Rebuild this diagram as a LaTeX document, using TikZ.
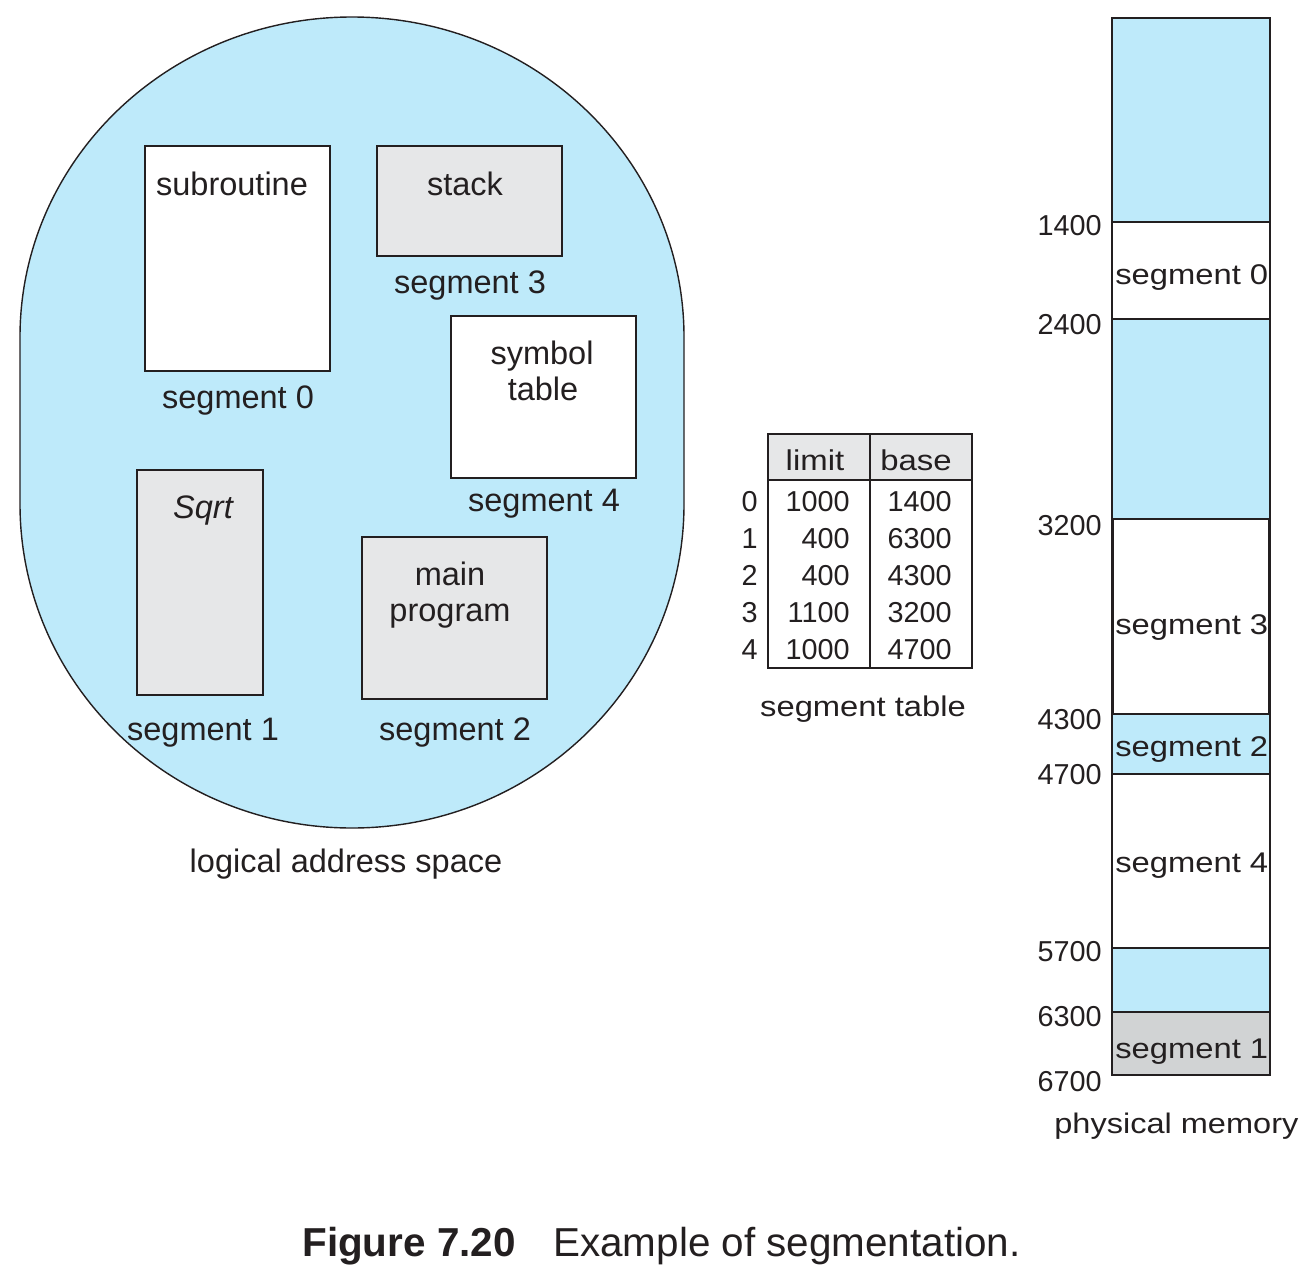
\documentclass[tikz,border=0pt]{standalone}
\usepackage{fontspec}
\usepackage{graphicx}
\setmainfont{Liberation Sans}
\definecolor{lblue}{RGB}{190,234,250}
\definecolor{lgray}{RGB}{230,231,232}
\definecolor{mgray}{RGB}{209,211,212}
\definecolor{ink}{RGB}{35,31,32}
\newcommand\xw[1]{\scalebox{1.15}[1]{#1}}
\tikzset{
  lbl/.style={inner sep=0pt, anchor=base, text=ink, font=\fontsize{18.5}{20}\selectfont},
  wlbl/.style={inner sep=0pt, anchor=base west, text=ink, font=\fontsize{16.2}{18}\selectfont},
  num/.style={inner sep=0pt, anchor=base east, text=ink, font=\fontsize{16.4}{18}\selectfont},
  segbox/.style={draw=ink, line width=0.85pt},
  memline/.style={draw=ink, line width=0.8pt},
}
\begin{document}
\begin{tikzpicture}[x=0.02cm, y=-0.02cm]
\path[use as bounding box] (0,0) rectangle (1300,1274);

% logical address space blob
\draw[fill=lblue, draw=ink, line width=0.8pt]
  (20,337) .. controls (20,160.3) and (168.6,17) .. (352,17)
  .. controls (535.4,17) and (684,160.3) .. (684,337)
  -- (684,504)
  .. controls (684,683) and (535.4,828) .. (352,828)
  .. controls (168.6,828) and (20,683) .. (20,504) -- cycle;

% segment boxes
\draw[segbox, fill=white] (145,146) rectangle (330,371);
\draw[segbox, fill=lgray] (377,146) rectangle (562,256);
\draw[segbox, fill=white] (451,316) rectangle (636,478);
\draw[segbox, fill=lgray] (137,470) rectangle (263,695);
\draw[segbox, fill=lgray] (362,537) rectangle (547,699);

\node[lbl] (sub) at (232,195) {subroutine};
\node[lbl] (seg0) at (238,408) {segment 0};
\node[lbl] (stk) at (465,195) {stack};
\node[lbl] (seg3) at (470,293) {segment 3};
\node[lbl] (sym1) at (542,364) {symbol};
\node[lbl] (sym2) at (543,400) {table};
\node[lbl] (seg4) at (544,511) {segment 4};
\node[lbl] (sqrt) at (203,518) {\itshape Sqrt};
\node[lbl] (main1) at (450,585) {main};
\node[lbl] (main2) at (450,621) {program};
\node[lbl] (seg1) at (203,740) {segment 1};
\node[lbl] (seg2) at (455,740) {segment 2};
\node[lbl] (las) at (346,872) {logical address space};

% segment table
\fill[lgray] (768,434) rectangle (972,480);
\draw[ink, line width=0.75pt] (768,434) rectangle (972,668);
\draw[ink, line width=0.75pt] (768,480) -- (972,480);
\draw[ink, line width=0.75pt] (870,434) -- (870,668);
\node[lbl, font=\fontsize{16.3}{18}\selectfont] (hlim) at (815,470) {\xw{limit}};
\node[lbl, font=\fontsize{16.3}{18}\selectfont] (hbase) at (916,470) {\xw{base}};
\foreach \i/\l/\b [count=\k from 0] in {0/1000/1400,1/400/6300,2/400/4300,3/1100/3200,4/1000/4700}{
  \pgfmathsetmacro\yy{511+37*\k}
  \node[num] (idx\i) at (758,\yy) {\i};
  \node[num] (lim\i) at (850,\yy) {\l};
  \node[num] (base\i) at (952,\yy) {\b};
}
\node[lbl, font=\fontsize{16.2}{18}\selectfont] (stab) at (863,716) {\xw{segment table}};

% physical memory
\fill[lblue] (1112,18) rectangle (1270,1075);
\fill[white] (1112,222) rectangle (1270,319);
\fill[white] (1112,519) rectangle (1270,714);
\fill[white] (1112,774) rectangle (1270,948);
\fill[mgray] (1112,1012) rectangle (1270,1075);
\draw[memline] (1112,18) rectangle (1270,1075);
\foreach \yy in {222,319,774,948,1012}{
  \draw[memline] (1112,\yy) -- (1270,\yy);
}
\draw[ink, line width=1.6pt] (1113,519) rectangle (1269,714);
\draw[ink, line width=1.4pt] (1112,1075) -- (1270,1075);

\node[wlbl] (m0) at (1115,284) {\xw{segment 0}};
\node[wlbl] (m3) at (1115,634) {\xw{segment 3}};
\node[wlbl] (m2) at (1115,756) {\xw{segment 2}};
\node[wlbl] (m4) at (1115,872) {\xw{segment 4}};
\node[wlbl] (m1) at (1115,1058) {\xw{segment 1}};

\node[num] (a1400) at (1102,235) {1400};
\node[num] (a2400) at (1102,334) {2400};
\node[num] (a3200) at (1102,535) {3200};
\node[num] (a4300) at (1102,729) {4300};
\node[num] (a4700) at (1102,784) {4700};
\node[num] (a5700) at (1102,961) {5700};
\node[num] (a6300) at (1102,1026) {6300};
\node[num] (a6700) at (1102,1091) {6700};

\node[wlbl, font=\fontsize{16.1}{18}\selectfont] (pm) at (1054,1133) {\xw{physical memory}};

% caption
\node[inner sep=0pt, anchor=base west, text=ink, font=\fontsize{23}{25}\selectfont\bfseries] (figno) at (302,1256) {Figure 7.20};
\node[inner sep=0pt, anchor=base west, text=ink, font=\fontsize{23}{25}\selectfont] (cap) at (553,1256) {Example of segmentation.};
\end{tikzpicture}
\end{document}
